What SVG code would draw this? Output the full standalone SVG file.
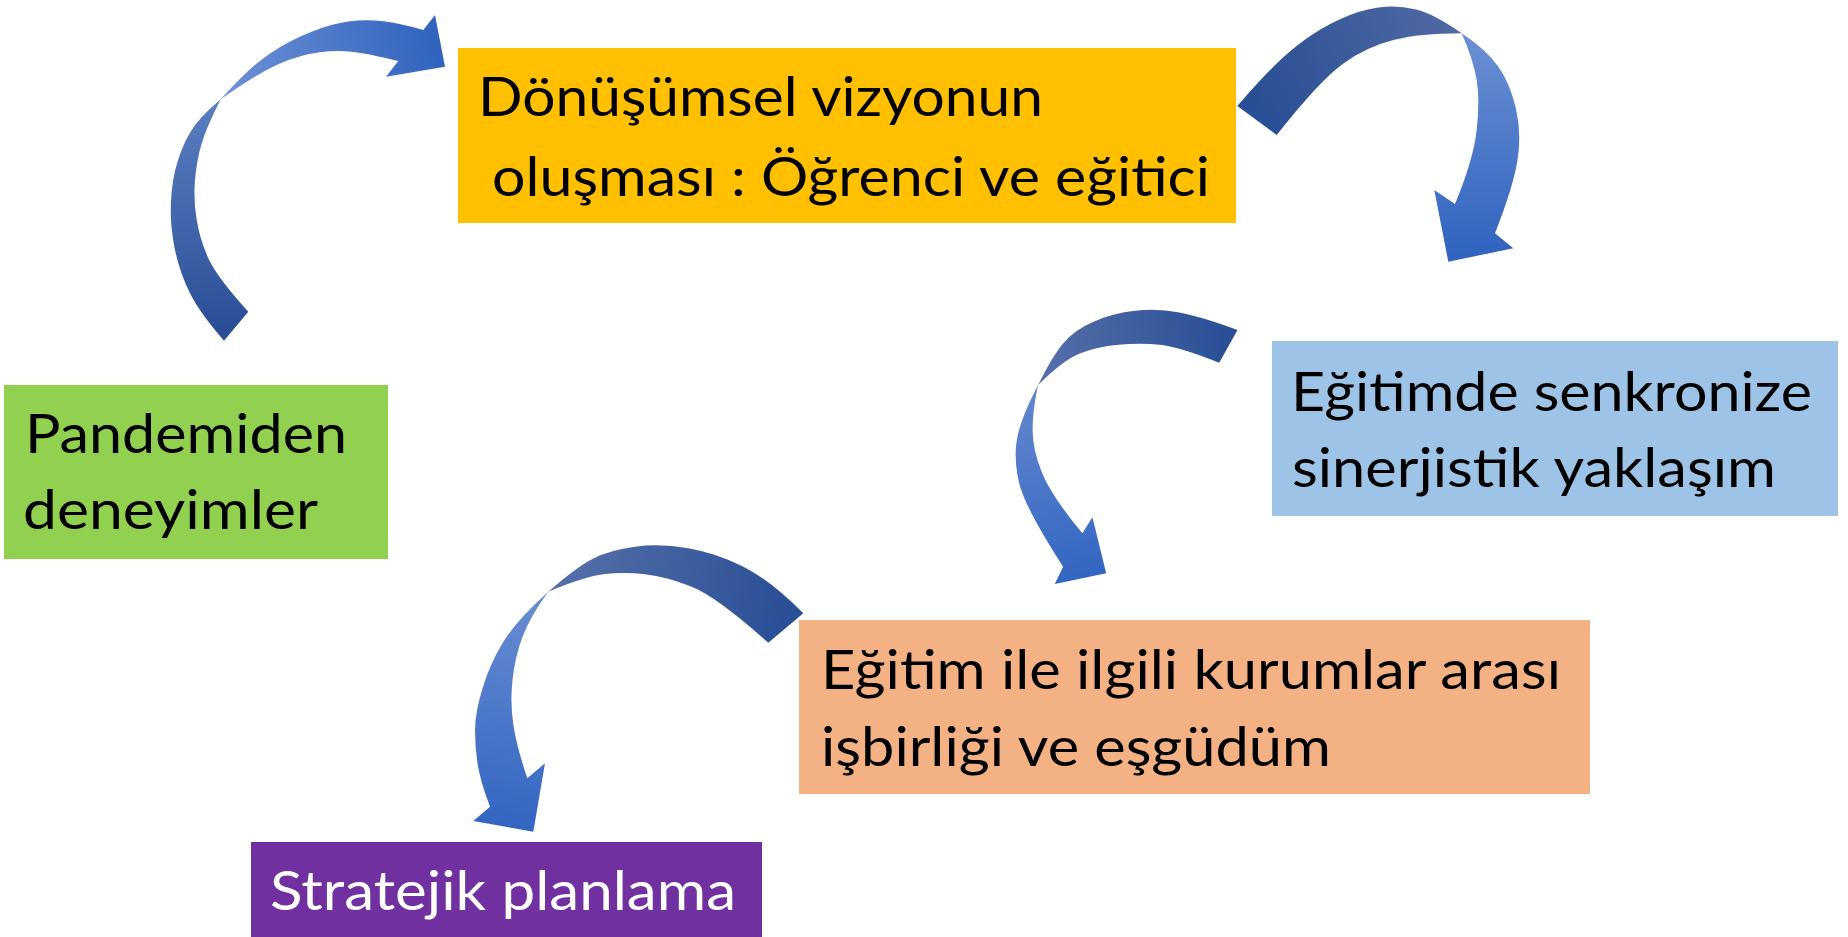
<svg xmlns="http://www.w3.org/2000/svg" width="1848" height="937" viewBox="0 0 1848 937">
<defs>
<linearGradient id="a1t" gradientUnits="userSpaceOnUse" x1="236" y1="326" x2="210" y2="105"><stop offset="0" stop-color="#2A4F96"/><stop offset="1" stop-color="#5A7DC0"/></linearGradient>
<linearGradient id="a1h" gradientUnits="userSpaceOnUse" x1="225" y1="95" x2="440" y2="50"><stop offset="0" stop-color="#6E91D5"/><stop offset="1" stop-color="#3163BF"/></linearGradient>
<linearGradient id="a2t" gradientUnits="userSpaceOnUse" x1="1257" y1="120" x2="1460" y2="30"><stop offset="0" stop-color="#284E94"/><stop offset="1" stop-color="#5069A4"/></linearGradient>
<linearGradient id="a2h" gradientUnits="userSpaceOnUse" x1="1470" y1="40" x2="1470" y2="255"><stop offset="0" stop-color="#6A8ED2"/><stop offset="1" stop-color="#3164C0"/></linearGradient>
<linearGradient id="a3t" gradientUnits="userSpaceOnUse" x1="1228" y1="346" x2="1040" y2="380"><stop offset="0" stop-color="#2A4F96"/><stop offset="1" stop-color="#5670AA"/></linearGradient>
<linearGradient id="a3h" gradientUnits="userSpaceOnUse" x1="1030" y1="390" x2="1085" y2="575"><stop offset="0" stop-color="#6487CF"/><stop offset="1" stop-color="#3366C2"/></linearGradient>
<linearGradient id="a4t" gradientUnits="userSpaceOnUse" x1="786" y1="628" x2="550" y2="590"><stop offset="0" stop-color="#2A4F96"/><stop offset="1" stop-color="#5670AA"/></linearGradient>
<linearGradient id="a4h" gradientUnits="userSpaceOnUse" x1="540" y1="595" x2="505" y2="825"><stop offset="0" stop-color="#6A8DD2"/><stop offset="1" stop-color="#3366C2"/></linearGradient>
<style>
.t{font-family:Lato,"Open Sans","Liberation Sans",sans-serif;font-size:55px;fill:#000}
.w{fill:#fff}
</style>
</defs>
<rect width="1848" height="937" fill="#fff"/>
<g id="connectors">
<g id="arrow1">
<path fill="url(#a1t)" d="M224,340.7 Q200,313.3 190,293.3 Q180,273.3 175,250 Q170,226.7 170.9,203.4 Q171.7,180 177.5,161.7 Q183.3,143.3 191.7,130 Q200,116.7 220.7,99.3 Q206.7,126.7 201.7,143.4 Q196.7,160 195,180 Q193.3,200 196.7,220 Q200,240 208.4,258.4 Q216.7,276.7 248.3,311.7 Z"/>
<path fill="url(#a1h)" d="M220.7,99.3 Q250,66.7 270,53.4 Q290,40 311.7,31.7 Q333.3,23.3 350,21.3 Q366.7,19.3 383.4,21.3 Q400,23.3 423.3,30 L435,15 L445,66.7 L386,76.7 L398.3,61 Q366.7,53.3 351.7,51.7 Q336.7,50 318.4,52.5 Q300,55 280,63.4 Q260,71.7 220.7,99.3 Z"/>
</g>
<g id="arrow2">
<path fill="url(#a2t)" d="M1237.3,106 Q1260,80 1273.4,66.7 Q1286.7,53.3 1303.4,40.8 Q1320,28.3 1340,19.2 Q1360,10 1378.4,7.5 Q1396.7,5 1415,9.2 Q1433.3,13.3 1461.7,33.3 Q1420,33.3 1393.4,40 Q1366.7,46.7 1343.4,63.4 Q1320,80 1276.7,135 Z"/>
<path fill="url(#a2h)" d="M1461.7,33.3 Q1486.7,50 1498.4,66.7 Q1510,83.3 1515.9,108.3 Q1521.7,133.3 1517.5,160 Q1513.3,186.7 1495,233.3 L1513.3,248.3 L1448.3,261.7 L1434.3,190 L1455,204 Q1473.3,160 1476.7,130 Q1480,100 1476.7,80 Q1473.3,60 1461.7,33.3 Z"/>
</g>
<g id="arrow3">
<path fill="url(#a3t)" d="M1237.5,330 Q1201.5,316.7 1179.4,312.5 Q1157.2,308.3 1135.1,310.8 Q1112.9,313.3 1093.5,321.7 Q1074.1,330 1063.1,343.4 Q1052,356.7 1038.1,385 Q1063.1,360 1079.7,353.4 Q1096.3,346.7 1118.5,344.7 Q1140.6,342.7 1160,344.7 Q1179.3,346.7 1219.2,362.7 Z"/>
<path fill="url(#a3h)" d="M1038.1,385 Q1021.5,416.7 1017.4,436.7 Q1013.2,456.7 1018.8,481.7 Q1024.3,506.7 1063.1,566.7 L1054.8,584 L1106.2,573.3 L1092.4,517.3 L1082.4,533.3 Q1052,496.7 1042.3,473.4 Q1032.6,450 1032.6,430 Q1032.6,410 1038.1,385 Z"/>
</g>
<g id="arrow4">
<path fill="url(#a4t)" d="M803.3,613.3 Q770,580 743.4,566.7 Q716.7,553.3 688.4,548.3 Q660,543.3 635,546.7 Q610,550 593.4,558.4 Q576.7,566.7 548.3,591.7 Q583.3,576.7 603.3,574.2 Q623.3,571.7 645,574.2 Q666.7,576.7 691.7,586.7 Q716.7,596.7 768.3,642.7 Z"/>
<path fill="url(#a4h)" d="M548.3,591.7 Q516.7,620 503.4,641.7 Q490,663.3 482.5,688.3 Q475,713.3 475,730 Q475,746.7 477.5,763.4 Q480,780 490,806.7 L473.3,821 L533.3,831.7 L545,763.3 L527.3,778.3 Q516.7,746.7 513.4,725 Q510,703.3 512.5,680 Q515,656.7 522.5,636.7 Q530,616.7 548.3,591.7 Z"/>
</g>
</g>
<g id="node-vizyon">
<rect x="458" y="48" width="778" height="175" fill="#FFC000"/>
<text class="t" x="478" y="116" textLength="565" lengthAdjust="spacingAndGlyphs">Dönüşümsel vizyonun</text>
<text class="t" x="492" y="196" textLength="718" lengthAdjust="spacingAndGlyphs">oluşması : Öğrenci ve eğitici</text>
</g>
<g id="node-pandemi">
<rect x="4" y="385" width="384" height="174" fill="#92D050"/>
<text class="t" x="25" y="453" textLength="322" lengthAdjust="spacingAndGlyphs">Pandemiden</text>
<text class="t" x="23" y="529" textLength="295" lengthAdjust="spacingAndGlyphs">deneyimler</text>
</g>
<g id="node-sinerji">
<rect x="1272" y="341" width="566" height="175" fill="#9DC3E6"/>
<text class="t" x="1291" y="411" textLength="521" lengthAdjust="spacingAndGlyphs">Eğitimde senkronize</text>
<text class="t" x="1292" y="487" textLength="484" lengthAdjust="spacingAndGlyphs">sinerjistik yaklaşım</text>
</g>
<g id="node-isbirligi">
<rect x="799" y="620" width="791" height="174" fill="#F4B183"/>
<text class="t" x="821" y="689" textLength="740" lengthAdjust="spacingAndGlyphs">Eğitim ile ilgili kurumlar arası</text>
<text class="t" x="821" y="766" textLength="510" lengthAdjust="spacingAndGlyphs">işbirliği ve eşgüdüm</text>
</g>
<g id="node-strateji">
<rect x="251" y="842" width="511" height="95" fill="#7030A0"/>
<text class="t w" x="270" y="910" textLength="466" lengthAdjust="spacingAndGlyphs">Stratejik planlama</text>
</g>
</svg>
